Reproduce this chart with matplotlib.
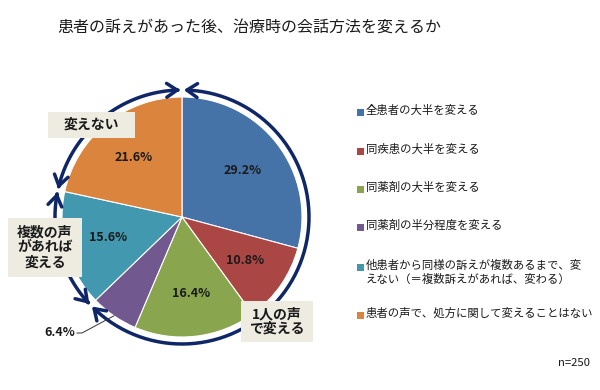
import numpy as np
import matplotlib
matplotlib.use('Agg')
import matplotlib.pyplot as plt
from matplotlib.patches import FancyArrowPatch, Rectangle
from matplotlib.path import Path

plt.rcParams['font.family'] = ['Noto Sans CJK JP', 'DejaVu Sans']

title = '患者の訴えがあった後、治療時の会話方法を変えるか'
categories = ['全患者の大半を変える',
              '同疾患の大半を変える',
              '同薬剤の大半を変える',
              '同薬剤の半分程度を変える',
              '他患者から同様の訴えが複数あるまで、変\nえない（＝複数訴えがあれば、変わる）',
              '患者の声で、処方に関して変えることはない']
values = [29.2, 10.8, 16.4, 6.4, 15.6, 21.6]
colors = ['#4572A7', '#AA4643', '#89A54E', '#71588F', '#4198AF', '#DB843D']
group_labels = ['変えない', '複数の声\nがあれば\n変える', '1人の声\nで変える']
note = 'n=250'

H = 390
cx, cy, R = 182, H - 217, 120
arc_r = 127
navy = '#0f2766'
box_col = '#EEECE1'

fig = plt.figure(figsize=(6, 3.9), dpi=100)
ax = fig.add_axes([0, 0, 1, 1])

wedges, texts, autotexts = ax.pie(
    values, colors=colors, startangle=90, counterclock=False,
    center=(cx, cy), radius=R, autopct=lambda p: '%.1f%%' % p if p > 7 else '',
    pctdistance=0.64, wedgeprops=dict(edgecolor='white', linewidth=0.8),
    textprops=dict(fontsize=9, fontweight='bold', color='#1a1a1a'))

ax.set_xlim(0, 600)
ax.set_ylim(0, H)
ax.set_aspect('equal')
ax.axis('off')

# small slice label outside with leader line
w = wedges[3]
mid = np.deg2rad((w.theta1 + w.theta2) / 2)
ex, ey = cx + R * np.cos(mid), cy + R * np.sin(mid)
ax.plot([ex, 82, 77], [ey, H - 333, H - 333], color='#333333', lw=0.7)
ax.text(75, H - 333, '%.1f%%' % values[3], ha='right', va='center',
        fontsize=9, fontweight='bold', color='#1a1a1a')

# arcs with arrows around the pie
def arc(a1, a2):
    t = np.deg2rad(np.linspace(a1, a2, 80))
    verts = np.column_stack([cx + arc_r * np.cos(t), cy + arc_r * np.sin(t)])
    p = FancyArrowPatch(path=Path(verts), arrowstyle='<->,head_length=7.5,head_width=5',
                        mutation_scale=1, color=navy, lw=2.5)
    ax.add_patch(p)

g = 0.8
arc(90 + g, 168 - g)
arc(168 + g, 224 - g)
arc(224 + g, 450 - g)

# group label boxes
boxes = [(48, 112, 87, 26), (8, 218, 74, 59), (241, 301, 72, 41)]
for (bx, by, bw, bh), lab in zip(boxes, group_labels):
    ax.add_patch(Rectangle((bx, H - by - bh), bw, bh, facecolor=box_col, edgecolor='none'))
    ax.text(bx + bw / 2, H - by - bh / 2, lab, ha='center', va='center',
            fontsize=10, fontweight='bold', color='#1a1a1a', linespacing=1.1)

# legend
leg_y = [112, 151, 189, 227, 267, 315]
for yy, c, lab in zip(leg_y, colors, categories):
    ax.add_patch(Rectangle((357, H - yy - 3.5), 7, 7, facecolor=c, edgecolor='none'))
    ax.text(366, H - yy + 7.5, lab, ha='left', va='top', fontsize=8.2,
            color='#1a1a1a', linespacing=1.3)

ax.text(590, H - 363, note, ha='right', va='center', fontsize=8.2, color='#1a1a1a')
ax.text(249, H - 27, title, ha='center', va='center', fontsize=11.5, color='#1a1a1a')

fig.savefig('out.png', dpi=100)
